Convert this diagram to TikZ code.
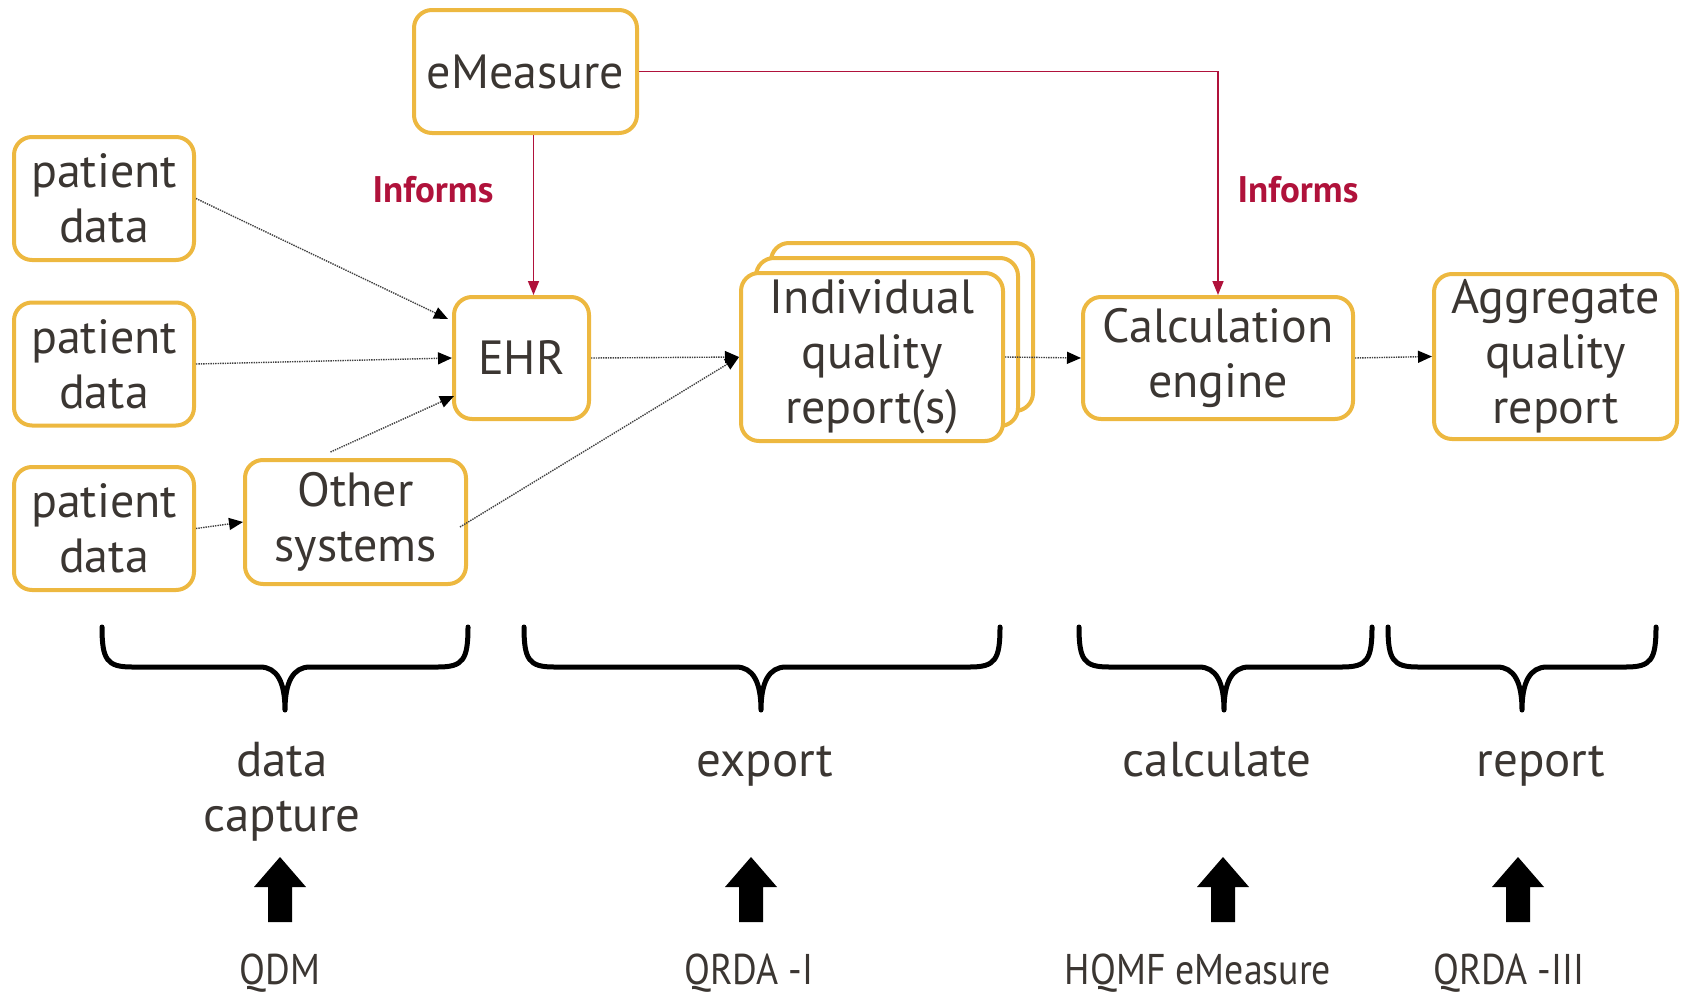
\documentclass[tikz,border=0pt]{standalone}
\usepackage{fontspec}
\setmainfont{PT Sans}
\newfontfamily\narrowfont{PT Sans}[FakeStretch=0.88]
\usetikzlibrary{arrows.meta,calc}
\definecolor{gold}{HTML}{EDB840}
\definecolor{txt}{HTML}{3B3632}
\definecolor{informred}{HTML}{B0123B}
\begin{document}
\begin{tikzpicture}[x=1pt,y=-1pt,
  box/.style={draw=gold, line width=4pt, rounded corners=18pt, fill=white, text=txt,
    align=center, font=\fontsize{48}{55}\selectfont, inner sep=0pt},
  flow/.style={draw=black!75, line width=1.4pt, densely dotted, -{Triangle[length=14pt,width=12pt,color=black]}},
  informs/.style={draw=informred, line width=1.6pt, -{Triangle[length=14pt,width=11pt]}},
  informlbl/.style={text=informred, font=\fontsize{37}{42}\selectfont\bfseries},
  brace/.style={draw=black, line width=5pt, line join=round, line cap=round},
  phase/.style={text=txt, font=\fontsize{49}{55}\selectfont, align=center, anchor=base},
  std/.style={text=txt, font=\narrowfont\fontsize{43}{48}\selectfont},
  uparrow/.style={fill=black}
]
\path[use as bounding box] (0,0) rectangle (1686,993);

% boxes
\node[box, minimum width=223pt, minimum height=123pt] (em) at (525.5,71.5) {eMeasure};
\node[box, minimum width=180pt, minimum height=123pt] (pd1) at (104,198.5) {patient\\data};
\node[box, minimum width=180pt, minimum height=123pt] (pd2) at (104,364) {patient\\data};
\node[box, minimum width=180pt, minimum height=123pt] (pd3) at (104,528.5) {patient\\data};
\node[box, minimum width=135pt, minimum height=122pt] (ehr) at (521.5,358) {EHR};
\node[box, minimum width=221pt, minimum height=124pt] (oth) at (355.5,522) {Other\\systems};
\node[box, minimum width=262pt, minimum height=168pt] (iqr3) at (902,327) {};
\node[box, minimum width=262pt, minimum height=168pt] (iqr2) at (887,342) {};
\node[box, minimum width=262pt, minimum height=168pt] (iqr) at (872,357) {Individual\\quality\\report(s)};
\node[box, minimum width=270pt, minimum height=122pt] (calc) at (1218,358) {Calculation\\engine};
\node[box, minimum width=243pt, minimum height=165pt] (agg) at (1555.5,356.5) {Aggregate\\quality\\report};

% informs connectors
\draw[informs] ([xshift=8pt]em.south) -- ([xshift=8pt]em.south |- ehr.north);
\draw[informs] (em.east) -| (calc.north);
\node[informlbl] (inf1) at (433,190) {Informs};
\node[informlbl] (inf2) at (1298,190) {Informs};

% flow connectors
\draw[flow] (pd1.east) -- ($(ehr.west)+(-4,-39)$);
\draw[flow] (pd2.east) -- (ehr.west);
\draw[flow] ($(oth.north)+(-25,-6)$) -- ($(ehr.west)+(2,38)$);
\draw[flow] (pd3.east) -- (oth.west);
\draw[flow] (ehr.east) -- (iqr.west);
\draw[flow] ($(oth.east)+(-8,5)$) -- (iqr.west);
\draw[flow] (iqr.east) -- (calc.west);
\draw[flow] (calc.east) -- (agg.west);

% braces
\foreach \xa/\tip/\xb/\nm in {102/285/468/b1, 524/761/1000/b2, 1079/1224/1372/b3, 1388/1522/1656/b4}{
  \draw[brace] (\xa,627) .. controls (\xa,660) and (\xa+5,667) .. (\xa+30,667)
    -- (\tip-25,667) .. controls (\tip-8,667) and (\tip,682) .. (\tip,710)
    .. controls (\tip,682) and (\tip+8,667) .. (\tip+25,667)
    -- (\xb-30,667) .. controls (\xb-5,667) and (\xb,660) .. (\xb,627);
}

% phase labels
\node[phase] (p1a) at (282,776) {data};
\node[phase] (p1b) at (282,831) {capture};
\node[phase] (p2) at (765,776) {export};
\node[phase] (p3) at (1217,776) {calculate};
\node[phase] (p4) at (1541,776) {report};

% up arrows
\foreach \x in {280,751,1223,1518}{
  \fill[uparrow] (\x,857) -- (\x+26,887) -- (\x+12,887) -- (\x+12,922) -- (\x-12,922)
    -- (\x-12,887) -- (\x-26,887) -- cycle;
}

% standards
\node[std] (s1) at (280,973) {QDM};
\node[std] (s2) at (749,973) {QRDA -I};
\node[std] (s3) at (1198,973) {HQMF eMeasure};
\node[std] (s4) at (1509,973) {QRDA -III};
\end{tikzpicture}
\end{document}
